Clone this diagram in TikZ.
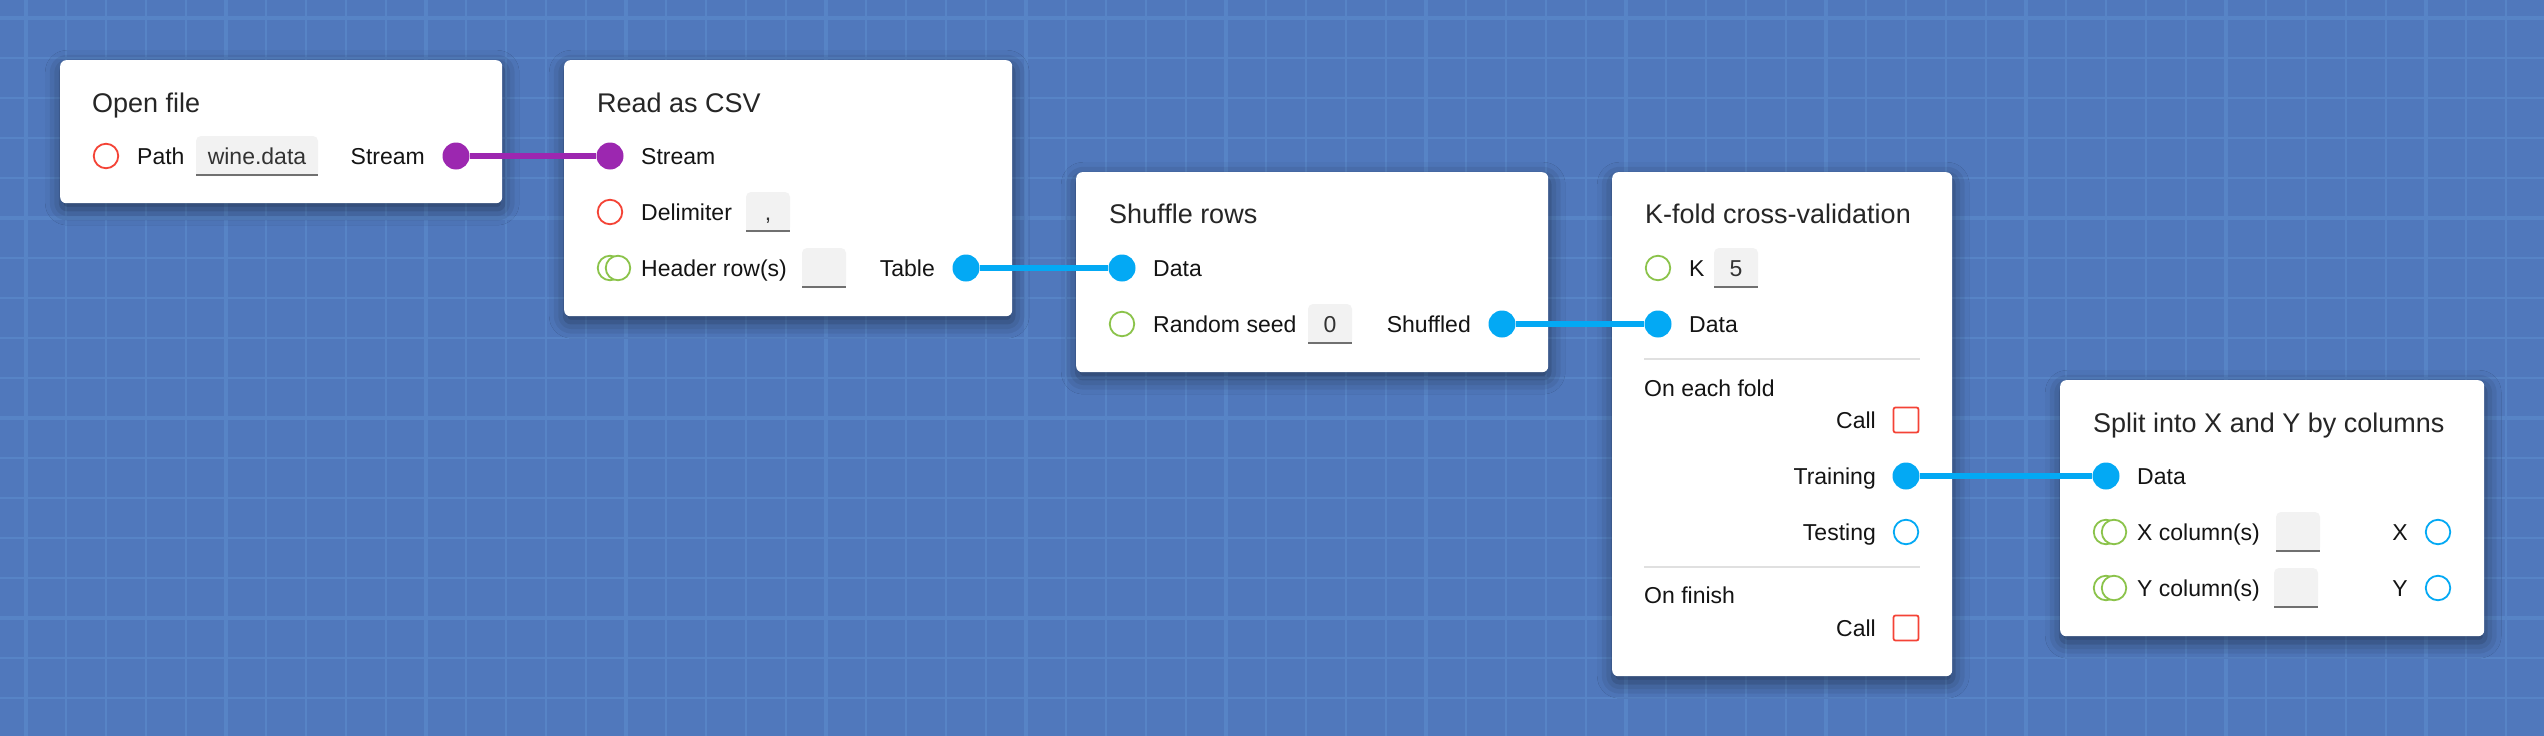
\documentclass[tikz,border=0pt]{standalone}
\usepackage{fontspec}
\setmainfont{Liberation Sans}
\usetikzlibrary{shadows.blur}
\definecolor{bgc}{HTML}{5078BC}
\definecolor{gridc}{HTML}{5784C6}
\definecolor{pred}{HTML}{F44336}
\definecolor{pgreen}{HTML}{8BC34A}
\definecolor{pblue}{HTML}{03A9F4}
\definecolor{ppurple}{HTML}{9C27B0}
\definecolor{titlec}{HTML}{262626}
\definecolor{bodyc}{HTML}{141414}
\definecolor{fieldbg}{HTML}{F2F2F2}
\definecolor{fieldline}{HTML}{707070}
\definecolor{fieldtxt}{HTML}{333333}
\definecolor{sepc}{HTML}{E0E0E0}
\newcommand\fld[6]{%
  \fill[fieldbg,rounded corners=5pt] (#2,#5) -- (#2,#3) -- (#4,#3) -- (#4,#5) -- cycle;
  \fill[fieldbg] (#2,#5-8) rectangle (#4,#5);
  \draw[fieldline,line width=2pt] (#2,#5-1) -- (#4,#5-1);
  \node[ftxt] (#1) at ({(#2+#4)/2},#5-12) {#6};
}
\begin{document}
\begin{tikzpicture}[x=1pt,y=-1pt,
  card/.style={rectangle, fill=white, rounded corners=6pt, anchor=north west, inner sep=0pt,
    blur shadow={shadow xshift=1pt, shadow yshift=-6pt, shadow blur radius=16pt, shadow opacity=50}},
  ttl/.style={font=\fontsize{27}{32}\selectfont, text=titlec, anchor=base west, inner sep=0pt},
  lbl/.style={font=\fontsize{23}{28}\selectfont, text=bodyc, anchor=base west, inner sep=0pt},
  rlbl/.style={lbl, anchor=base east},
  ftxt/.style={font=\fontsize{23}{28}\selectfont, text=fieldtxt, anchor=base, inner sep=0pt},
  ring/.style={circle, draw=#1, line width=1.8pt, fill=white, minimum size=24.5pt, inner sep=0pt},
  pdot/.style={circle, fill=#1, minimum size=27pt, inner sep=0pt},
  sq/.style={rectangle, draw=#1, line width=1.8pt, rounded corners=2pt, fill=white, minimum size=25pt, inner sep=0pt},
  wire/.style={line width=6pt, draw=#1},
  sep/.style={draw=sepc, line width=2pt},
  gminor/.style={draw=gridc, line width=1.5pt},
  gmajor/.style={draw=gridc, line width=3.2pt}
]
\useasboundingbox (0,0) rectangle (2544,736);
\fill[bgc] (0,0) rectangle (2544,736);
\foreach \x in {26,66,...,2544} \draw[gminor] (\x,0) -- (\x,736);
\foreach \y in {18,58,...,736} \draw[gminor] (0,\y) -- (2544,\y);
\foreach \x in {26,226,...,2544} \draw[gmajor] (\x,0) -- (\x,736);
\foreach \y in {18,218,...,736} \draw[gmajor] (0,\y) -- (2544,\y);

% cards
\node[card, minimum width=442pt, minimum height=143pt] (n1) at (60,60) {};
\node[card, minimum width=448pt, minimum height=256pt] (n2) at (564,60) {};
\node[card, minimum width=472pt, minimum height=200pt] (n3) at (1076,172) {};
\node[card, minimum width=340pt, minimum height=504pt] (n4) at (1612,172) {};
\node[card, minimum width=424pt, minimum height=256pt] (n5) at (2060,380) {};

% node 1: Open file
\node[ttl] (t1) at (92,112) {Open file};
\node[ring=pred] (p1) at (106,156) {};
\node[lbl] (l1a) at (137,164) {Path};
\fld{f1}{196}{136}{318}{176}{wine.data}
\node[rlbl] (l1b) at (425,164) {Stream};
\node[pdot=ppurple] (o1) at (456,156) {};

% node 2: Read as CSV
\node[ttl] (t2) at (597,112) {Read as CSV};
\node[pdot=ppurple] (i2) at (610,156) {};
\node[lbl] (l2a) at (641,164) {Stream};
\node[ring=pred] (p2a) at (610,212) {};
\node[lbl] (l2b) at (641,220) {Delimiter};
\fld{f2a}{746}{192}{790}{232}{,}
\node[ring=pgreen] (p2b) at (610,268) {};
\node[ring=pgreen] (p2c) at (618,268) {};
\node[lbl] (l2c) at (641,276) {Header row(s)};
\fld{f2b}{802}{248}{846}{288}{}
\node[rlbl] (l2d) at (935,276) {Table};
\node[pdot=pblue] (o2) at (966,268) {};

% node 3: Shuffle rows
\node[ttl] (t3) at (1109,223) {Shuffle rows};
\node[pdot=pblue] (i3) at (1122,268) {};
\node[lbl] (l3a) at (1153,276) {Data};
\node[ring=pgreen] (p3) at (1122,324) {};
\node[lbl] (l3b) at (1153,332) {Random seed};
\fld{f3}{1308}{304}{1352}{344}{0}
\node[rlbl] (l3c) at (1471,332) {Shuffled};
\node[pdot=pblue] (o3) at (1502,324) {};

% node 4: K-fold cross-validation
\node[ttl] (t4) at (1645,223) {K-fold cross-validation};
\node[ring=pgreen] (p4a) at (1658,268) {};
\node[lbl] (l4a) at (1689,276) {K};
\fld{f4}{1714}{248}{1758}{288}{5}
\node[pdot=pblue] (i4) at (1658,324) {};
\node[lbl] (l4b) at (1689,332) {Data};
\coordinate (s1a) at (1644,359);
\coordinate (s1b) at (1920,359);
\draw[sep] (s1a) -- (s1b);
\node[lbl] (l4c) at (1644,396) {On each fold};
\node[rlbl] (l4d) at (1876,428) {Call};
\node[sq=pred] (q4a) at (1906,420) {};
\node[rlbl] (l4e) at (1876,484) {Training};
\node[pdot=pblue] (o4) at (1906,476) {};
\node[rlbl] (l4f) at (1876,540) {Testing};
\node[ring=pblue] (p4b) at (1906,532) {};
\coordinate (s2a) at (1644,567);
\coordinate (s2b) at (1920,567);
\draw[sep] (s2a) -- (s2b);
\node[lbl] (l4g) at (1644,603) {On finish};
\node[rlbl] (l4h) at (1876,636) {Call};
\node[sq=pred] (q4b) at (1906,628) {};

% node 5: Split into X and Y by columns
\node[ttl] (t5) at (2093,432) {Split into X and Y by columns};
\node[pdot=pblue] (i5) at (2106,476) {};
\node[lbl] (l5a) at (2137,484) {Data};
\node[ring=pgreen] (p5a) at (2106,532) {};
\node[ring=pgreen] (p5b) at (2114,532) {};
\node[lbl] (l5b) at (2137,540) {X column(s)};
\fld{f5a}{2276}{512}{2320}{552}{}
\node[rlbl] (l5c) at (2408,540) {X};
\node[ring=pblue] (p5c) at (2438,532) {};
\node[ring=pgreen] (p5d) at (2106,588) {};
\node[ring=pgreen] (p5e) at (2114,588) {};
\node[lbl] (l5d) at (2137,596) {Y column(s)};
\fld{f5b}{2274}{568}{2318}{608}{}
\node[rlbl] (l5e) at (2408,596) {Y};
\node[ring=pblue] (p5f) at (2438,588) {};

% connectors
\draw[wire=ppurple] (o1) -- (i2);
\draw[wire=pblue] (o2) -- (i3);
\draw[wire=pblue] (o3) -- (i4);
\draw[wire=pblue] (o4) -- (i5);
\end{tikzpicture}
\end{document}
